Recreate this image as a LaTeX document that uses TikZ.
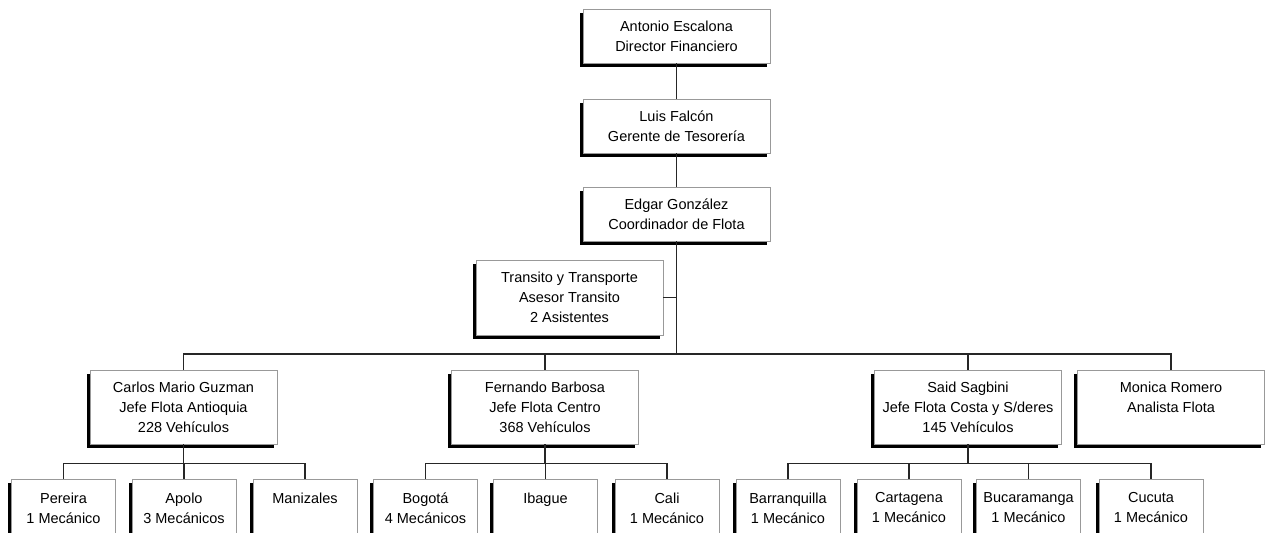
\documentclass[tikz,border=0pt]{standalone}
\usepackage{fontspec}
\setmainfont{Liberation Sans}
\usetikzlibrary{shadows}
\begin{document}
\begin{tikzpicture}[x=1pt,y=-1pt,
  box/.style={draw=black!40, line width=0.9pt, fill=white, align=center, inner sep=0pt,
    font=\fontsize{14.5}{20}\selectfont,
    drop shadow={shadow xshift=-3.5pt, shadow yshift=-3.5pt, opacity=1, fill=black}},
  topbox/.style={box, minimum width=187pt, minimum height=54pt},
  midbox/.style={box, minimum width=187pt, minimum height=74pt},
  leaf/.style={box, minimum width=104pt, minimum height=58pt},
  conn/.style={draw=black!85, line width=1.1pt}]
\clip (0,0) rectangle (1267,533);
\fill[white] (0,0) rectangle (1267,533);
% top chain
\node[topbox] (dir) at (676.5,36) {Antonio Escalona\\Director Financiero};
\node[topbox] (ger) at (676.5,126) {Luis Falcón\\Gerente de Tesorería};
\node[topbox] (coo) at (676.5,214) {Edgar González\\Coordinador de Flota};
\node[box, minimum width=187pt, minimum height=75pt] (tra) at (569.5,297.5) {Transito y Transporte\\Asesor Transito\\2 Asistentes};
% level 2
\node[midbox] (car) at (183.5,407) {Carlos Mario Guzman\\Jefe Flota Antioquia\\228 Vehículos};
\node[midbox] (fer) at (545,407) {Fernando Barbosa\\Jefe Flota Centro\\368 Vehículos};
\node[midbox] (sai) at (968,407) {Said Sagbini\\Jefe Flota Costa y S/deres\\145 Vehículos};
\node[midbox] (mon) at (1171,407) {Monica Romero\\Analista Flota\\ \mbox{}};
% leaves
\node[leaf] (per) at (63.5,508) {Pereira\\1 Mecánico};
\node[leaf] (apo) at (184,508) {Apolo\\3 Mecánicos};
\node[leaf] (man) at (305,508) {Manizales\\ \mbox{}};
\node[leaf] (bog) at (425.5,508) {Bogotá\\4 Mecánicos};
\node[leaf] (iba) at (545.5,508) {Ibague\\ \mbox{}};
\node[leaf] (cal) at (667,508) {Cali\\1 Mecánico};
\node[leaf] (bar) at (788,508) {Barranquilla\\1 Mecánico};
\node[leaf] (cta) at (909,508) {Cartagena\\1 Mecánico};
\node[leaf] (buc) at (1028.5,508) {Bucaramanga\\1 Mecánico};
\node[leaf] (cuc) at (1151,508) {Cucuta\\1 Mecánico};
% junction coordinates
\coordinate (bus) at (676.5,354);
\coordinate (sub) at (0,463.5);
% connectors
\draw[conn] (dir) -- (ger);
\draw[conn] (ger) -- (coo);
\draw[conn] (coo) -- (bus);
\draw[conn] (tra.east) -- (tra.east -| coo.south);
\draw[conn] (car.north) |- (mon.north |- bus) -- (mon.north);
\draw[conn] (fer.north) -- (fer.north |- bus);
\draw[conn] (sai.north) -- (sai.north |- bus);
% sub buses
\draw[conn] (car.south) -- (car.south |- sub);
\draw[conn] (per.north) |- (man.north |- sub) -- (man.north);
\draw[conn] (apo.north) -- (apo.north |- sub);
\draw[conn] (fer.south) -- (fer.south |- sub);
\draw[conn] (bog.north) |- (cal.north |- sub) -- (cal.north);
\draw[conn] (iba.north) -- (iba.north |- sub);
\draw[conn] (sai.south) -- (sai.south |- sub);
\draw[conn] (bar.north) |- (cuc.north |- sub) -- (cuc.north);
\draw[conn] (cta.north) -- (cta.north |- sub);
\draw[conn] (buc.north) -- (buc.north |- sub);
\end{tikzpicture}
\end{document}
